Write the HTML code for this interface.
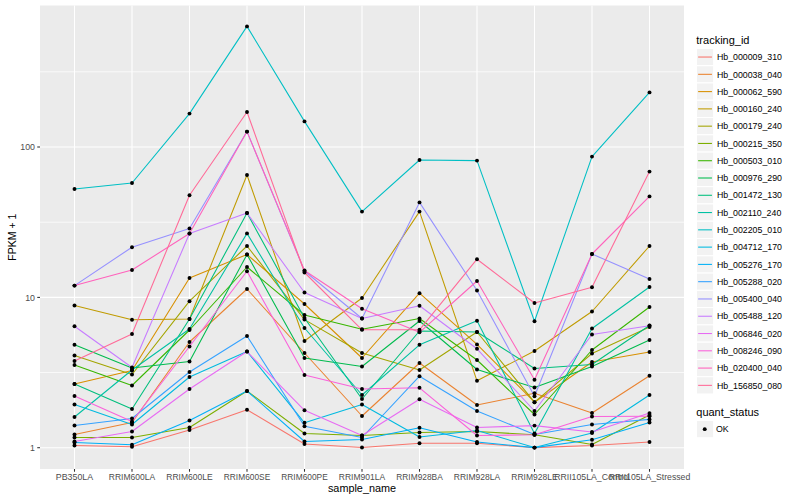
<!DOCTYPE html><html><head><meta charset="utf-8"><title>plot</title><style>html,body{margin:0;padding:0;background:#fff}svg{display:block}text{font-family:"Liberation Sans",Arial,Helvetica,sans-serif}</style></head><body>
<svg width="800" height="500" viewBox="0 0 800 500">
<rect width="800" height="500" fill="#fff"/>
<rect x="40.0" y="5.5" width="644.0" height="463.5" fill="#EBEBEB"/>
<line x1="40.0" x2="684.0" y1="71.80" y2="71.80" stroke="#fff" stroke-width="0.75"/>
<line x1="40.0" x2="684.0" y1="222.20" y2="222.20" stroke="#fff" stroke-width="0.75"/>
<line x1="40.0" x2="684.0" y1="372.55" y2="372.55" stroke="#fff" stroke-width="0.75"/>
<line x1="40.0" x2="684.0" y1="147.00" y2="147.00" stroke="#fff" stroke-width="1.07"/>
<line x1="40.0" x2="684.0" y1="297.40" y2="297.40" stroke="#fff" stroke-width="1.07"/>
<line x1="40.0" x2="684.0" y1="447.70" y2="447.70" stroke="#fff" stroke-width="1.07"/>
<line x1="74.50" x2="74.50" y1="5.5" y2="469.0" stroke="#fff" stroke-width="1.07"/>
<line x1="132.00" x2="132.00" y1="5.5" y2="469.0" stroke="#fff" stroke-width="1.07"/>
<line x1="189.50" x2="189.50" y1="5.5" y2="469.0" stroke="#fff" stroke-width="1.07"/>
<line x1="247.00" x2="247.00" y1="5.5" y2="469.0" stroke="#fff" stroke-width="1.07"/>
<line x1="304.50" x2="304.50" y1="5.5" y2="469.0" stroke="#fff" stroke-width="1.07"/>
<line x1="362.00" x2="362.00" y1="5.5" y2="469.0" stroke="#fff" stroke-width="1.07"/>
<line x1="419.50" x2="419.50" y1="5.5" y2="469.0" stroke="#fff" stroke-width="1.07"/>
<line x1="477.00" x2="477.00" y1="5.5" y2="469.0" stroke="#fff" stroke-width="1.07"/>
<line x1="534.50" x2="534.50" y1="5.5" y2="469.0" stroke="#fff" stroke-width="1.07"/>
<line x1="592.00" x2="592.00" y1="5.5" y2="469.0" stroke="#fff" stroke-width="1.07"/>
<line x1="649.50" x2="649.50" y1="5.5" y2="469.0" stroke="#fff" stroke-width="1.07"/>
<g fill="none" stroke-width="1.07" stroke-linejoin="round" stroke-linecap="butt">
<polyline stroke="#F8766D" points="74.5,445.5 132.0,446.8 189.5,430.0 247.0,409.7 304.5,444.0 362.0,447.5 419.5,443.2 477.0,443.3 534.5,447.6 592.0,445.5 649.5,442.0"/>
<polyline stroke="#EA8331" points="74.5,434.5 132.0,422.5 189.5,342.0 247.0,289.0 304.5,353.0 362.0,416.0 419.5,363.0 477.0,405.0 534.5,393.3 592.0,413.0 649.5,375.8"/>
<polyline stroke="#D89000" points="74.5,384.0 132.0,370.5 189.5,278.0 247.0,254.5 304.5,304.0 362.0,358.0 419.5,293.2 477.0,344.4 534.5,402.2 592.0,362.0 649.5,352.0"/>
<polyline stroke="#C09B00" points="74.5,305.5 132.0,319.8 189.5,319.0 247.0,175.0 304.5,341.0 362.0,298.0 419.5,211.6 477.0,380.8 534.5,351.0 592.0,311.5 649.5,246.0"/>
<polyline stroke="#A3A500" points="74.5,355.5 132.0,374.5 189.5,301.2 247.0,246.0 304.5,319.6 362.0,353.0 419.5,370.0 477.0,332.0 534.5,402.2 592.0,353.5 649.5,327.0"/>
<polyline stroke="#7CAE00" points="74.5,437.5 132.0,437.5 189.5,427.5 247.0,391.0 304.5,433.5 362.0,435.5 419.5,432.5 477.0,431.5 534.5,434.8 592.0,444.5 649.5,415.0"/>
<polyline stroke="#39B600" points="74.5,365.0 132.0,385.5 189.5,330.0 247.0,267.0 304.5,315.0 362.0,329.3 419.5,318.5 477.0,360.0 534.5,414.5 592.0,350.0 649.5,307.0"/>
<polyline stroke="#00BB4E" points="74.5,344.7 132.0,368.0 189.5,361.5 247.0,254.5 304.5,358.0 362.0,366.5 419.5,321.0 477.0,369.5 534.5,387.5 592.0,366.5 649.5,340.0"/>
<polyline stroke="#00BF7D" points="74.5,384.0 132.0,409.0 189.5,319.0 247.0,213.0 304.5,318.0 362.0,399.0 419.5,331.0 477.0,332.0 534.5,368.5 592.0,364.5 649.5,325.5"/>
<polyline stroke="#00C1A3" points="74.5,417.0 132.0,370.0 189.5,329.0 247.0,233.4 304.5,328.0 362.0,395.0 419.5,344.8 477.0,320.8 534.5,433.5 592.0,328.5 649.5,287.0"/>
<polyline stroke="#00BFC4" points="74.5,189.0 132.0,183.0 189.5,113.6 247.0,26.4 304.5,121.4 362.0,211.6 419.5,160.0 477.0,160.6 534.5,321.3 592.0,156.6 649.5,92.4"/>
<polyline stroke="#00BAE0" points="74.5,404.5 132.0,424.5 189.5,377.0 247.0,351.5 304.5,422.8 362.0,404.5 419.5,437.0 477.0,430.5 534.5,447.6 592.0,433.0 649.5,395.0"/>
<polyline stroke="#00B0F6" points="74.5,442.5 132.0,444.7 189.5,420.5 247.0,391.0 304.5,441.5 362.0,439.5 419.5,427.8 477.0,442.0 534.5,447.6 592.0,439.8 649.5,422.5"/>
<polyline stroke="#35A2FF" points="74.5,425.5 132.0,418.5 189.5,372.0 247.0,336.0 304.5,426.2 362.0,437.5 419.5,376.2 477.0,411.0 534.5,434.5 592.0,424.5 649.5,419.4"/>
<polyline stroke="#9590FF" points="74.5,285.6 132.0,247.2 189.5,228.5 247.0,131.6 304.5,271.0 362.0,318.5 419.5,202.4 477.0,290.5 534.5,396.3 592.0,254.0 649.5,279.0"/>
<polyline stroke="#C77CFF" points="74.5,326.2 132.0,367.5 189.5,233.5 247.0,213.0 304.5,292.5 362.0,318.5 419.5,305.8 477.0,348.8 534.5,411.0 592.0,334.5 649.5,325.8"/>
<polyline stroke="#E76BF3" points="74.5,441.5 132.0,431.5 189.5,389.0 247.0,351.5 304.5,410.3 362.0,435.5 419.5,399.2 477.0,427.5 534.5,425.6 592.0,432.0 649.5,413.1"/>
<polyline stroke="#FA62DB" points="74.5,396.0 132.0,421.5 189.5,346.5 247.0,271.3 304.5,375.0 362.0,389.0 419.5,387.8 477.0,435.5 534.5,434.8 592.0,416.5 649.5,416.2"/>
<polyline stroke="#FF62BC" points="74.5,285.6 132.0,270.0 189.5,233.5 247.0,131.6 304.5,270.5 362.0,308.8 419.5,332.3 477.0,281.0 534.5,379.8 592.0,254.0 649.5,196.4"/>
<polyline stroke="#FF6A98" points="74.5,361.0 132.0,334.0 189.5,195.2 247.0,112.0 304.5,272.5 362.0,329.8 419.5,329.8 477.0,259.2 534.5,303.0 592.0,287.2 649.5,171.6"/>
</g><g fill="#000">
<circle cx="74.5" cy="445.5" r="1.95"/>
<circle cx="132.0" cy="446.8" r="1.95"/>
<circle cx="189.5" cy="430.0" r="1.95"/>
<circle cx="247.0" cy="409.7" r="1.95"/>
<circle cx="304.5" cy="444.0" r="1.95"/>
<circle cx="362.0" cy="447.5" r="1.95"/>
<circle cx="419.5" cy="443.2" r="1.95"/>
<circle cx="477.0" cy="443.3" r="1.95"/>
<circle cx="534.5" cy="447.6" r="1.95"/>
<circle cx="592.0" cy="445.5" r="1.95"/>
<circle cx="649.5" cy="442.0" r="1.95"/>
<circle cx="74.5" cy="434.5" r="1.95"/>
<circle cx="132.0" cy="422.5" r="1.95"/>
<circle cx="189.5" cy="342.0" r="1.95"/>
<circle cx="247.0" cy="289.0" r="1.95"/>
<circle cx="304.5" cy="353.0" r="1.95"/>
<circle cx="362.0" cy="416.0" r="1.95"/>
<circle cx="419.5" cy="363.0" r="1.95"/>
<circle cx="477.0" cy="405.0" r="1.95"/>
<circle cx="534.5" cy="393.3" r="1.95"/>
<circle cx="592.0" cy="413.0" r="1.95"/>
<circle cx="649.5" cy="375.8" r="1.95"/>
<circle cx="74.5" cy="384.0" r="1.95"/>
<circle cx="132.0" cy="370.5" r="1.95"/>
<circle cx="189.5" cy="278.0" r="1.95"/>
<circle cx="247.0" cy="254.5" r="1.95"/>
<circle cx="304.5" cy="304.0" r="1.95"/>
<circle cx="362.0" cy="358.0" r="1.95"/>
<circle cx="419.5" cy="293.2" r="1.95"/>
<circle cx="477.0" cy="344.4" r="1.95"/>
<circle cx="534.5" cy="402.2" r="1.95"/>
<circle cx="592.0" cy="362.0" r="1.95"/>
<circle cx="649.5" cy="352.0" r="1.95"/>
<circle cx="74.5" cy="305.5" r="1.95"/>
<circle cx="132.0" cy="319.8" r="1.95"/>
<circle cx="189.5" cy="319.0" r="1.95"/>
<circle cx="247.0" cy="175.0" r="1.95"/>
<circle cx="304.5" cy="341.0" r="1.95"/>
<circle cx="362.0" cy="298.0" r="1.95"/>
<circle cx="419.5" cy="211.6" r="1.95"/>
<circle cx="477.0" cy="380.8" r="1.95"/>
<circle cx="534.5" cy="351.0" r="1.95"/>
<circle cx="592.0" cy="311.5" r="1.95"/>
<circle cx="649.5" cy="246.0" r="1.95"/>
<circle cx="74.5" cy="355.5" r="1.95"/>
<circle cx="132.0" cy="374.5" r="1.95"/>
<circle cx="189.5" cy="301.2" r="1.95"/>
<circle cx="247.0" cy="246.0" r="1.95"/>
<circle cx="304.5" cy="319.6" r="1.95"/>
<circle cx="362.0" cy="353.0" r="1.95"/>
<circle cx="419.5" cy="370.0" r="1.95"/>
<circle cx="477.0" cy="332.0" r="1.95"/>
<circle cx="534.5" cy="402.2" r="1.95"/>
<circle cx="592.0" cy="353.5" r="1.95"/>
<circle cx="649.5" cy="327.0" r="1.95"/>
<circle cx="74.5" cy="437.5" r="1.95"/>
<circle cx="132.0" cy="437.5" r="1.95"/>
<circle cx="189.5" cy="427.5" r="1.95"/>
<circle cx="247.0" cy="391.0" r="1.95"/>
<circle cx="304.5" cy="433.5" r="1.95"/>
<circle cx="362.0" cy="435.5" r="1.95"/>
<circle cx="419.5" cy="432.5" r="1.95"/>
<circle cx="477.0" cy="431.5" r="1.95"/>
<circle cx="534.5" cy="434.8" r="1.95"/>
<circle cx="592.0" cy="444.5" r="1.95"/>
<circle cx="649.5" cy="415.0" r="1.95"/>
<circle cx="74.5" cy="365.0" r="1.95"/>
<circle cx="132.0" cy="385.5" r="1.95"/>
<circle cx="189.5" cy="330.0" r="1.95"/>
<circle cx="247.0" cy="267.0" r="1.95"/>
<circle cx="304.5" cy="315.0" r="1.95"/>
<circle cx="362.0" cy="329.3" r="1.95"/>
<circle cx="419.5" cy="318.5" r="1.95"/>
<circle cx="477.0" cy="360.0" r="1.95"/>
<circle cx="534.5" cy="414.5" r="1.95"/>
<circle cx="592.0" cy="350.0" r="1.95"/>
<circle cx="649.5" cy="307.0" r="1.95"/>
<circle cx="74.5" cy="344.7" r="1.95"/>
<circle cx="132.0" cy="368.0" r="1.95"/>
<circle cx="189.5" cy="361.5" r="1.95"/>
<circle cx="247.0" cy="254.5" r="1.95"/>
<circle cx="304.5" cy="358.0" r="1.95"/>
<circle cx="362.0" cy="366.5" r="1.95"/>
<circle cx="419.5" cy="321.0" r="1.95"/>
<circle cx="477.0" cy="369.5" r="1.95"/>
<circle cx="534.5" cy="387.5" r="1.95"/>
<circle cx="592.0" cy="366.5" r="1.95"/>
<circle cx="649.5" cy="340.0" r="1.95"/>
<circle cx="74.5" cy="384.0" r="1.95"/>
<circle cx="132.0" cy="409.0" r="1.95"/>
<circle cx="189.5" cy="319.0" r="1.95"/>
<circle cx="247.0" cy="213.0" r="1.95"/>
<circle cx="304.5" cy="318.0" r="1.95"/>
<circle cx="362.0" cy="399.0" r="1.95"/>
<circle cx="419.5" cy="331.0" r="1.95"/>
<circle cx="477.0" cy="332.0" r="1.95"/>
<circle cx="534.5" cy="368.5" r="1.95"/>
<circle cx="592.0" cy="364.5" r="1.95"/>
<circle cx="649.5" cy="325.5" r="1.95"/>
<circle cx="74.5" cy="417.0" r="1.95"/>
<circle cx="132.0" cy="370.0" r="1.95"/>
<circle cx="189.5" cy="329.0" r="1.95"/>
<circle cx="247.0" cy="233.4" r="1.95"/>
<circle cx="304.5" cy="328.0" r="1.95"/>
<circle cx="362.0" cy="395.0" r="1.95"/>
<circle cx="419.5" cy="344.8" r="1.95"/>
<circle cx="477.0" cy="320.8" r="1.95"/>
<circle cx="534.5" cy="433.5" r="1.95"/>
<circle cx="592.0" cy="328.5" r="1.95"/>
<circle cx="649.5" cy="287.0" r="1.95"/>
<circle cx="74.5" cy="189.0" r="1.95"/>
<circle cx="132.0" cy="183.0" r="1.95"/>
<circle cx="189.5" cy="113.6" r="1.95"/>
<circle cx="247.0" cy="26.4" r="1.95"/>
<circle cx="304.5" cy="121.4" r="1.95"/>
<circle cx="362.0" cy="211.6" r="1.95"/>
<circle cx="419.5" cy="160.0" r="1.95"/>
<circle cx="477.0" cy="160.6" r="1.95"/>
<circle cx="534.5" cy="321.3" r="1.95"/>
<circle cx="592.0" cy="156.6" r="1.95"/>
<circle cx="649.5" cy="92.4" r="1.95"/>
<circle cx="74.5" cy="404.5" r="1.95"/>
<circle cx="132.0" cy="424.5" r="1.95"/>
<circle cx="189.5" cy="377.0" r="1.95"/>
<circle cx="247.0" cy="351.5" r="1.95"/>
<circle cx="304.5" cy="422.8" r="1.95"/>
<circle cx="362.0" cy="404.5" r="1.95"/>
<circle cx="419.5" cy="437.0" r="1.95"/>
<circle cx="477.0" cy="430.5" r="1.95"/>
<circle cx="534.5" cy="447.6" r="1.95"/>
<circle cx="592.0" cy="433.0" r="1.95"/>
<circle cx="649.5" cy="395.0" r="1.95"/>
<circle cx="74.5" cy="442.5" r="1.95"/>
<circle cx="132.0" cy="444.7" r="1.95"/>
<circle cx="189.5" cy="420.5" r="1.95"/>
<circle cx="247.0" cy="391.0" r="1.95"/>
<circle cx="304.5" cy="441.5" r="1.95"/>
<circle cx="362.0" cy="439.5" r="1.95"/>
<circle cx="419.5" cy="427.8" r="1.95"/>
<circle cx="477.0" cy="442.0" r="1.95"/>
<circle cx="534.5" cy="447.6" r="1.95"/>
<circle cx="592.0" cy="439.8" r="1.95"/>
<circle cx="649.5" cy="422.5" r="1.95"/>
<circle cx="74.5" cy="425.5" r="1.95"/>
<circle cx="132.0" cy="418.5" r="1.95"/>
<circle cx="189.5" cy="372.0" r="1.95"/>
<circle cx="247.0" cy="336.0" r="1.95"/>
<circle cx="304.5" cy="426.2" r="1.95"/>
<circle cx="362.0" cy="437.5" r="1.95"/>
<circle cx="419.5" cy="376.2" r="1.95"/>
<circle cx="477.0" cy="411.0" r="1.95"/>
<circle cx="534.5" cy="434.5" r="1.95"/>
<circle cx="592.0" cy="424.5" r="1.95"/>
<circle cx="649.5" cy="419.4" r="1.95"/>
<circle cx="74.5" cy="285.6" r="1.95"/>
<circle cx="132.0" cy="247.2" r="1.95"/>
<circle cx="189.5" cy="228.5" r="1.95"/>
<circle cx="247.0" cy="131.6" r="1.95"/>
<circle cx="304.5" cy="271.0" r="1.95"/>
<circle cx="362.0" cy="318.5" r="1.95"/>
<circle cx="419.5" cy="202.4" r="1.95"/>
<circle cx="477.0" cy="290.5" r="1.95"/>
<circle cx="534.5" cy="396.3" r="1.95"/>
<circle cx="592.0" cy="254.0" r="1.95"/>
<circle cx="649.5" cy="279.0" r="1.95"/>
<circle cx="74.5" cy="326.2" r="1.95"/>
<circle cx="132.0" cy="367.5" r="1.95"/>
<circle cx="189.5" cy="233.5" r="1.95"/>
<circle cx="247.0" cy="213.0" r="1.95"/>
<circle cx="304.5" cy="292.5" r="1.95"/>
<circle cx="362.0" cy="318.5" r="1.95"/>
<circle cx="419.5" cy="305.8" r="1.95"/>
<circle cx="477.0" cy="348.8" r="1.95"/>
<circle cx="534.5" cy="411.0" r="1.95"/>
<circle cx="592.0" cy="334.5" r="1.95"/>
<circle cx="649.5" cy="325.8" r="1.95"/>
<circle cx="74.5" cy="441.5" r="1.95"/>
<circle cx="132.0" cy="431.5" r="1.95"/>
<circle cx="189.5" cy="389.0" r="1.95"/>
<circle cx="247.0" cy="351.5" r="1.95"/>
<circle cx="304.5" cy="410.3" r="1.95"/>
<circle cx="362.0" cy="435.5" r="1.95"/>
<circle cx="419.5" cy="399.2" r="1.95"/>
<circle cx="477.0" cy="427.5" r="1.95"/>
<circle cx="534.5" cy="425.6" r="1.95"/>
<circle cx="592.0" cy="432.0" r="1.95"/>
<circle cx="649.5" cy="413.1" r="1.95"/>
<circle cx="74.5" cy="396.0" r="1.95"/>
<circle cx="132.0" cy="421.5" r="1.95"/>
<circle cx="189.5" cy="346.5" r="1.95"/>
<circle cx="247.0" cy="271.3" r="1.95"/>
<circle cx="304.5" cy="375.0" r="1.95"/>
<circle cx="362.0" cy="389.0" r="1.95"/>
<circle cx="419.5" cy="387.8" r="1.95"/>
<circle cx="477.0" cy="435.5" r="1.95"/>
<circle cx="534.5" cy="434.8" r="1.95"/>
<circle cx="592.0" cy="416.5" r="1.95"/>
<circle cx="649.5" cy="416.2" r="1.95"/>
<circle cx="74.5" cy="285.6" r="1.95"/>
<circle cx="132.0" cy="270.0" r="1.95"/>
<circle cx="189.5" cy="233.5" r="1.95"/>
<circle cx="247.0" cy="131.6" r="1.95"/>
<circle cx="304.5" cy="270.5" r="1.95"/>
<circle cx="362.0" cy="308.8" r="1.95"/>
<circle cx="419.5" cy="332.3" r="1.95"/>
<circle cx="477.0" cy="281.0" r="1.95"/>
<circle cx="534.5" cy="379.8" r="1.95"/>
<circle cx="592.0" cy="254.0" r="1.95"/>
<circle cx="649.5" cy="196.4" r="1.95"/>
<circle cx="74.5" cy="361.0" r="1.95"/>
<circle cx="132.0" cy="334.0" r="1.95"/>
<circle cx="189.5" cy="195.2" r="1.95"/>
<circle cx="247.0" cy="112.0" r="1.95"/>
<circle cx="304.5" cy="272.5" r="1.95"/>
<circle cx="362.0" cy="329.8" r="1.95"/>
<circle cx="419.5" cy="329.8" r="1.95"/>
<circle cx="477.0" cy="259.2" r="1.95"/>
<circle cx="534.5" cy="303.0" r="1.95"/>
<circle cx="592.0" cy="287.2" r="1.95"/>
<circle cx="649.5" cy="171.6" r="1.95"/>
</g>
<g stroke="#333" stroke-width="1.07">
<line x1="37.25" x2="40.0" y1="147.00" y2="147.00"/>
<line x1="37.25" x2="40.0" y1="297.40" y2="297.40"/>
<line x1="37.25" x2="40.0" y1="447.70" y2="447.70"/>
<line x1="74.50" x2="74.50" y1="469.0" y2="471.75"/>
<line x1="132.00" x2="132.00" y1="469.0" y2="471.75"/>
<line x1="189.50" x2="189.50" y1="469.0" y2="471.75"/>
<line x1="247.00" x2="247.00" y1="469.0" y2="471.75"/>
<line x1="304.50" x2="304.50" y1="469.0" y2="471.75"/>
<line x1="362.00" x2="362.00" y1="469.0" y2="471.75"/>
<line x1="419.50" x2="419.50" y1="469.0" y2="471.75"/>
<line x1="477.00" x2="477.00" y1="469.0" y2="471.75"/>
<line x1="534.50" x2="534.50" y1="469.0" y2="471.75"/>
<line x1="592.00" x2="592.00" y1="469.0" y2="471.75"/>
<line x1="649.50" x2="649.50" y1="469.0" y2="471.75"/>
</g>
<g font-size="8.8" fill="#4D4D4D">
<text x="35" y="150.2" text-anchor="end">100</text>
<text x="35" y="300.6" text-anchor="end">10</text>
<text x="35" y="450.9" text-anchor="end">1</text>
<text x="74.5" y="479.8" text-anchor="middle" textLength="37.3" lengthAdjust="spacingAndGlyphs">PB350LA</text>
<text x="132.0" y="479.8" text-anchor="middle" textLength="46.4" lengthAdjust="spacingAndGlyphs">RRIM600LA</text>
<text x="189.5" y="479.8" text-anchor="middle" textLength="46.4" lengthAdjust="spacingAndGlyphs">RRIM600LE</text>
<text x="247.0" y="479.8" text-anchor="middle" textLength="46.4" lengthAdjust="spacingAndGlyphs">RRIM600SE</text>
<text x="304.5" y="479.8" text-anchor="middle" textLength="46.4" lengthAdjust="spacingAndGlyphs">RRIM600PE</text>
<text x="362.0" y="479.8" text-anchor="middle" textLength="46.4" lengthAdjust="spacingAndGlyphs">RRIM901LA</text>
<text x="419.5" y="479.8" text-anchor="middle" textLength="46.4" lengthAdjust="spacingAndGlyphs">RRIM928BA</text>
<text x="477.0" y="479.8" text-anchor="middle" textLength="46.4" lengthAdjust="spacingAndGlyphs">RRIM928LA</text>
<text x="534.5" y="479.8" text-anchor="middle" textLength="46.4" lengthAdjust="spacingAndGlyphs">RRIM928LE</text>
<text x="592.0" y="479.8" text-anchor="middle" textLength="75.6" lengthAdjust="spacingAndGlyphs">RRII105LA_Control</text>
<text x="649.5" y="479.8" text-anchor="middle" textLength="81.6" lengthAdjust="spacingAndGlyphs">RRII105LA_Stressed</text>
</g>
<g font-size="11" fill="#000">
<text x="362" y="491.9" text-anchor="middle" textLength="68.1" lengthAdjust="spacingAndGlyphs">sample_name</text>
<text transform="translate(16.3,237.2) rotate(-90)" text-anchor="middle" textLength="46.9" lengthAdjust="spacingAndGlyphs">FPKM + 1</text>
<text x="696.3" y="44.2">tracking_id</text>
<text x="696.3" y="415.8" textLength="62.8" lengthAdjust="spacingAndGlyphs">quant_status</text>
</g>
<rect x="696.4" y="48.40" width="17.28" height="17.28" fill="#F2F2F2" stroke="#fff" stroke-width="1.07"/>
<line x1="698.13" x2="711.95" y1="57.04" y2="57.04" stroke="#F8766D" stroke-width="1.07"/>
<text x="716.9" y="60.24" font-size="8.8" fill="#000">Hb_000009_310</text>
<rect x="696.4" y="65.68" width="17.28" height="17.28" fill="#F2F2F2" stroke="#fff" stroke-width="1.07"/>
<line x1="698.13" x2="711.95" y1="74.32" y2="74.32" stroke="#EA8331" stroke-width="1.07"/>
<text x="716.9" y="77.52" font-size="8.8" fill="#000">Hb_000038_040</text>
<rect x="696.4" y="82.96" width="17.28" height="17.28" fill="#F2F2F2" stroke="#fff" stroke-width="1.07"/>
<line x1="698.13" x2="711.95" y1="91.60" y2="91.60" stroke="#D89000" stroke-width="1.07"/>
<text x="716.9" y="94.80" font-size="8.8" fill="#000">Hb_000062_590</text>
<rect x="696.4" y="100.24" width="17.28" height="17.28" fill="#F2F2F2" stroke="#fff" stroke-width="1.07"/>
<line x1="698.13" x2="711.95" y1="108.88" y2="108.88" stroke="#C09B00" stroke-width="1.07"/>
<text x="716.9" y="112.08" font-size="8.8" fill="#000">Hb_000160_240</text>
<rect x="696.4" y="117.52" width="17.28" height="17.28" fill="#F2F2F2" stroke="#fff" stroke-width="1.07"/>
<line x1="698.13" x2="711.95" y1="126.16" y2="126.16" stroke="#A3A500" stroke-width="1.07"/>
<text x="716.9" y="129.36" font-size="8.8" fill="#000">Hb_000179_240</text>
<rect x="696.4" y="134.80" width="17.28" height="17.28" fill="#F2F2F2" stroke="#fff" stroke-width="1.07"/>
<line x1="698.13" x2="711.95" y1="143.44" y2="143.44" stroke="#7CAE00" stroke-width="1.07"/>
<text x="716.9" y="146.64" font-size="8.8" fill="#000">Hb_000215_350</text>
<rect x="696.4" y="152.08" width="17.28" height="17.28" fill="#F2F2F2" stroke="#fff" stroke-width="1.07"/>
<line x1="698.13" x2="711.95" y1="160.72" y2="160.72" stroke="#39B600" stroke-width="1.07"/>
<text x="716.9" y="163.92" font-size="8.8" fill="#000">Hb_000503_010</text>
<rect x="696.4" y="169.36" width="17.28" height="17.28" fill="#F2F2F2" stroke="#fff" stroke-width="1.07"/>
<line x1="698.13" x2="711.95" y1="178.00" y2="178.00" stroke="#00BB4E" stroke-width="1.07"/>
<text x="716.9" y="181.20" font-size="8.8" fill="#000">Hb_000976_290</text>
<rect x="696.4" y="186.64" width="17.28" height="17.28" fill="#F2F2F2" stroke="#fff" stroke-width="1.07"/>
<line x1="698.13" x2="711.95" y1="195.28" y2="195.28" stroke="#00BF7D" stroke-width="1.07"/>
<text x="716.9" y="198.48" font-size="8.8" fill="#000">Hb_001472_130</text>
<rect x="696.4" y="203.92" width="17.28" height="17.28" fill="#F2F2F2" stroke="#fff" stroke-width="1.07"/>
<line x1="698.13" x2="711.95" y1="212.56" y2="212.56" stroke="#00C1A3" stroke-width="1.07"/>
<text x="716.9" y="215.76" font-size="8.8" fill="#000">Hb_002110_240</text>
<rect x="696.4" y="221.20" width="17.28" height="17.28" fill="#F2F2F2" stroke="#fff" stroke-width="1.07"/>
<line x1="698.13" x2="711.95" y1="229.84" y2="229.84" stroke="#00BFC4" stroke-width="1.07"/>
<text x="716.9" y="233.04" font-size="8.8" fill="#000">Hb_002205_010</text>
<rect x="696.4" y="238.48" width="17.28" height="17.28" fill="#F2F2F2" stroke="#fff" stroke-width="1.07"/>
<line x1="698.13" x2="711.95" y1="247.12" y2="247.12" stroke="#00BAE0" stroke-width="1.07"/>
<text x="716.9" y="250.32" font-size="8.8" fill="#000">Hb_004712_170</text>
<rect x="696.4" y="255.76" width="17.28" height="17.28" fill="#F2F2F2" stroke="#fff" stroke-width="1.07"/>
<line x1="698.13" x2="711.95" y1="264.40" y2="264.40" stroke="#00B0F6" stroke-width="1.07"/>
<text x="716.9" y="267.60" font-size="8.8" fill="#000">Hb_005276_170</text>
<rect x="696.4" y="273.04" width="17.28" height="17.28" fill="#F2F2F2" stroke="#fff" stroke-width="1.07"/>
<line x1="698.13" x2="711.95" y1="281.68" y2="281.68" stroke="#35A2FF" stroke-width="1.07"/>
<text x="716.9" y="284.88" font-size="8.8" fill="#000">Hb_005288_020</text>
<rect x="696.4" y="290.32" width="17.28" height="17.28" fill="#F2F2F2" stroke="#fff" stroke-width="1.07"/>
<line x1="698.13" x2="711.95" y1="298.96" y2="298.96" stroke="#9590FF" stroke-width="1.07"/>
<text x="716.9" y="302.16" font-size="8.8" fill="#000">Hb_005400_040</text>
<rect x="696.4" y="307.60" width="17.28" height="17.28" fill="#F2F2F2" stroke="#fff" stroke-width="1.07"/>
<line x1="698.13" x2="711.95" y1="316.24" y2="316.24" stroke="#C77CFF" stroke-width="1.07"/>
<text x="716.9" y="319.44" font-size="8.8" fill="#000">Hb_005488_120</text>
<rect x="696.4" y="324.88" width="17.28" height="17.28" fill="#F2F2F2" stroke="#fff" stroke-width="1.07"/>
<line x1="698.13" x2="711.95" y1="333.52" y2="333.52" stroke="#E76BF3" stroke-width="1.07"/>
<text x="716.9" y="336.72" font-size="8.8" fill="#000">Hb_006846_020</text>
<rect x="696.4" y="342.16" width="17.28" height="17.28" fill="#F2F2F2" stroke="#fff" stroke-width="1.07"/>
<line x1="698.13" x2="711.95" y1="350.80" y2="350.80" stroke="#FA62DB" stroke-width="1.07"/>
<text x="716.9" y="354.00" font-size="8.8" fill="#000">Hb_008246_090</text>
<rect x="696.4" y="359.44" width="17.28" height="17.28" fill="#F2F2F2" stroke="#fff" stroke-width="1.07"/>
<line x1="698.13" x2="711.95" y1="368.08" y2="368.08" stroke="#FF62BC" stroke-width="1.07"/>
<text x="716.9" y="371.28" font-size="8.8" fill="#000">Hb_020400_040</text>
<rect x="696.4" y="376.72" width="17.28" height="17.28" fill="#F2F2F2" stroke="#fff" stroke-width="1.07"/>
<line x1="698.13" x2="711.95" y1="385.36" y2="385.36" stroke="#FF6A98" stroke-width="1.07"/>
<text x="716.9" y="388.56" font-size="8.8" fill="#000">Hb_156850_080</text>
<rect x="696.4" y="420.50" width="17.28" height="17.28" fill="#F2F2F2" stroke="#fff" stroke-width="1.07"/>
<circle cx="704.74" cy="429.14" r="1.95" fill="#000"/>
<text x="715.9" y="432.04" font-size="8.8" fill="#000">OK</text>
</svg></body></html>
